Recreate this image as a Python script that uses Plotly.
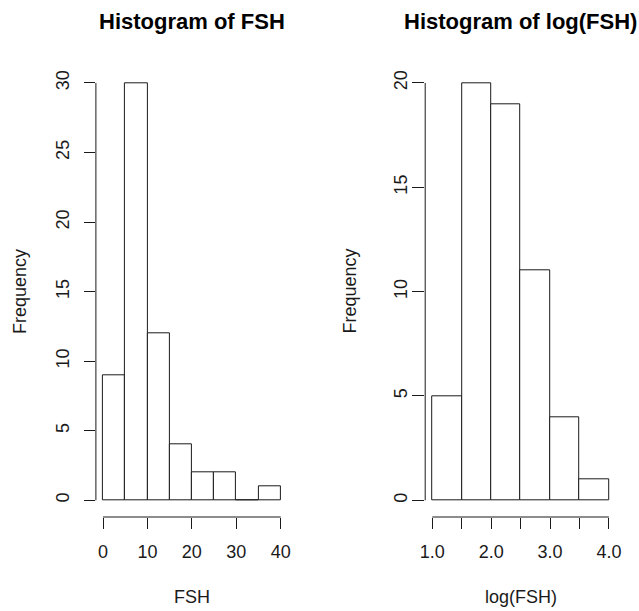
import plotly.graph_objects as go

# Histogram bin edges and counts
fsh_edges = [0, 5, 10, 15, 20, 25, 30, 35, 40]
fsh_counts = [9, 30, 12, 4, 2, 2, 0, 1]

logfsh_edges = [1.0, 1.5, 2.0, 2.5, 3.0, 3.5, 4.0]
logfsh_counts = [5, 20, 19, 11, 4, 1]

# Axis ticks
fsh_xticks = [0, 10, 20, 30, 40]
fsh_xticktext = ["0", "10", "20", "30", "40"]
fsh_yticks = [0, 5, 10, 15, 20, 25, 30]
log_xticks = [1.0, 1.5, 2.0, 2.5, 3.0, 3.5, 4.0]
log_xticktext = ["1.0", "", "2.0", "", "3.0", "", "4.0"]
log_yticks = [0, 5, 10, 15, 20]

W, H = 639, 611
FONT = "Liberation Sans, Arial, sans-serif"
INK = "#1a1a1a"


def bins(edges, counts):
    centers = [(a + b) / 2 for a, b in zip(edges[:-1], edges[1:])]
    widths = [b - a for a, b in zip(edges[:-1], edges[1:])]
    return centers, widths


def padded(lo, hi):
    d = (hi - lo) * 0.04
    return [lo - d, hi + d]


fig = go.Figure()

for edges, counts, xa, ya in [
    (fsh_edges, fsh_counts, "x", "y"),
    (logfsh_edges, logfsh_counts, "x2", "y2"),
]:
    c, w = bins(edges, counts)
    fig.add_trace(go.Bar(
        x=c, y=counts, width=w, xaxis=xa, yaxis=ya,
        marker=dict(color="white", line=dict(color=INK, width=1)),
        showlegend=False, hoverinfo="x+y",
    ))

ydom = [1 - 517 / H, 1 - 66.3 / H]
xdom1 = [95.9 / W, 287.8 / W]
xdom2 = [425.2 / W, 616.0 / W]

tickfont = dict(family=FONT, size=18, color=INK)
common_x = dict(showgrid=False, zeroline=False, showline=False, ticks="outside",
                ticklen=11, tickwidth=1, tickcolor=INK, tickfont=tickfont,
                ticklabelstandoff=7, automargin=False, fixedrange=True)
common_y = dict(showgrid=False, zeroline=False, showline=False, ticks="outside",
                tickwidth=1, tickcolor=INK, tickfont=tickfont,
                tickangle=-90, automargin=False, fixedrange=True)

fig.update_layout(
    template="none",
    width=W, height=H, autosize=False,
    margin=dict(l=0, r=0, t=0, b=0, pad=0),
    paper_bgcolor="white", plot_bgcolor="white",
    bargap=0,
    xaxis=dict(domain=xdom1, range=padded(0, 40), anchor="y",
               tickvals=fsh_xticks, ticktext=fsh_xticktext, **common_x),
    yaxis=dict(domain=ydom, range=padded(0, 30), anchor="x",
               tickvals=fsh_yticks, ticklen=11, ticklabelstandoff=8, **common_y),
    xaxis2=dict(domain=xdom2, range=padded(1.0, 4.0), anchor="y2",
                tickvals=log_xticks, ticktext=log_xticktext, **common_x),
    yaxis2=dict(domain=ydom, range=padded(0, 20), anchor="x2",
                tickvals=log_yticks, ticklen=12, ticklabelstandoff=-2, **common_y),
)

# Axis lines spanning only the first to last tick
line = dict(color=INK, width=1)
for xa, ya, xt, yt in [("x", "y", fsh_xticks, fsh_yticks),
                       ("x2", "y2", log_xticks, log_yticks)]:
    fig.add_shape(type="line", xref=xa, yref=f"{ya} domain",
                  x0=xt[0], x1=xt[-1], y0=0, y1=0, line=line)
    fig.add_shape(type="line", xref=f"{xa} domain", yref=ya,
                  x0=0, x1=0, y0=yt[0], y1=yt[-1], line=line)

# Main titles and axis titles
titles = [
    ("Histogram of FSH", (xdom1[0] + xdom1[1]) / 2),
    ("Histogram of log(FSH)", (xdom2[0] + xdom2[1]) / 2),
]
for text, xc in titles:
    fig.add_annotation(text=f"<b>{text}</b>", x=xc, y=1 - 21 / H, xref="paper", yref="paper",
                       showarrow=False, xanchor="center", yanchor="middle",
                       font=dict(family=FONT, size=22, color="black"))

for text, xc in [("FSH", (xdom1[0] + xdom1[1]) / 2), ("log(FSH)", (xdom2[0] + xdom2[1]) / 2)]:
    fig.add_annotation(text=text, x=xc, y=1 - 597 / H, xref="paper", yref="paper",
                       showarrow=False, xanchor="center", yanchor="middle",
                       font=dict(family=FONT, size=18, color=INK))

for xpix in [19.5, 349]:
    fig.add_annotation(text="Frequency", x=xpix / W, y=1 - 291.5 / H, xref="paper", yref="paper",
                       showarrow=False, xanchor="center", yanchor="middle", textangle=-90,
                       font=dict(family=FONT, size=18, color=INK))

fig.write_html("out.html")
